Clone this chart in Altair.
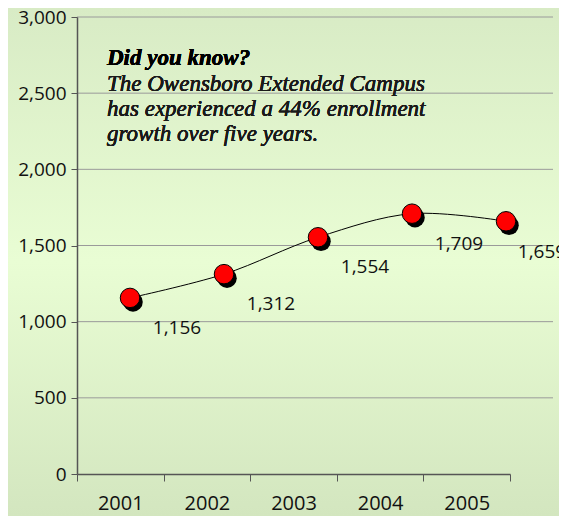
import altair as alt
import pandas as pd

years = ["2001", "2002", "2003", "2004", "2005"]
enrollment = [1156, 1312, 1554, 1709, 1659]
y_ticks = [0, 500, 1000, 1500, 2000, 2500, 3000]
note_title = "Did you know?"
note_lines = ["The Owensboro Extended Campus",
              "has experienced a 44% enrollment",
              "growth over five years."]

df = pd.DataFrame({"year": years, "value": enrollment})
grid_df = pd.DataFrame({"tick": y_ticks[1:]})

W, H = 476, 457
PL, PT, PR, PB = 69, 9, 6, 42

y_scale = alt.Scale(domain=[0, 3000], nice=False)
y_axis = alt.Axis(values=y_ticks, format=",.0f", title=None, grid=False,
                  domainColor="#555555", domainWidth=1.5,
                  tickColor="#555555", tickSize=6,
                  labelFontSize=19, labelFont="Open Sans",
                  labelColor="#111111", labelPadding=5, zindex=2)
y_enc = alt.Y("value:Q", scale=y_scale, axis=y_axis)

x_axis = alt.Axis(title=None, tickBand="extent", labelAngle=0,
                  domainColor="#555555", domainWidth=1.5,
                  tickColor="#555555", tickSize=7,
                  labelFontSize=20, labelFont="Open Sans",
                  labelColor="#111111", labelPadding=12, grid=False, zindex=2)

bg = alt.Chart(df).mark_rect(
    clip=False,
    fill=alt.Gradient(gradient="linear", x1=0, y1=0, x2=0, y2=1,
                      stops=[alt.GradientStop(color="#d8ebc5", offset=0),
                             alt.GradientStop(color="#e9fdd4", offset=0.5),
                             alt.GradientStop(color="#d3e6bf", offset=1)])
).encode(x=alt.value(-PL), x2=alt.value(W + PR),
         y=alt.value(-PT), y2=alt.value(H + PB))

grid = alt.Chart(grid_df).mark_rule(color="#9a9a9a", strokeWidth=1).encode(
    y=alt.Y("tick:Q", scale=y_scale, axis=y_axis),
    x=alt.value(0), x2=alt.value(W))

axis_layer = alt.Chart(df).mark_tick(opacity=0).encode(
    x=alt.X("year:O", scale=alt.Scale(type="band", domain=years, range=[0, 433],
                                      paddingInner=0, paddingOuter=0),
            axis=x_axis),
    y=y_enc,
)

x_pts = alt.X("year:O", scale=alt.Scale(type="point", domain=years,
                                        range=[53, 429], padding=0),
              axis=None)

line = alt.Chart(df).mark_line(color="black", strokeWidth=1,
                               interpolate="catmull-rom").encode(x=x_pts, y=y_enc)

shadow = alt.Chart(df).mark_point(filled=True, size=380, color="black",
                                  opacity=1).encode(
    x=x_pts, y=y_enc, xOffset=alt.value(3), yOffset=alt.value(4))

dots = alt.Chart(df).mark_point(filled=True, size=380, fill="#ff0000",
                                stroke="black", strokeWidth=1,
                                opacity=1).encode(x=x_pts, y=y_enc)

labels = alt.Chart(df).transform_filter(alt.datum.year != "2005").mark_text(
    dx=47, dy=30, fontSize=19, font="Open Sans", color="#111111").encode(
    x=x_pts, y=y_enc, text=alt.Text("value:Q", format=","))

label_last = alt.Chart(df).transform_filter(alt.datum.year == "2005").mark_text(
    dx=36, dy=31, fontSize=19, font="Open Sans", color="#111111").encode(
    x=x_pts, y=y_enc, text=alt.Text("value:Q", format=","))

title_txt = alt.Chart(df).mark_text(
    text=note_title, align="left", baseline="alphabetic", fontSize=23,
    font="Liberation Serif", fontStyle="italic", fontWeight="bold",
    color="black").encode(x=alt.value(30), y=alt.value(48))

body_txt = alt.Chart(df).mark_text(
    text=note_lines, align="left", baseline="alphabetic", fontSize=23,
    lineHeight=25, font="Liberation Serif", fontStyle="italic",
    color="#1a1a1a").encode(x=alt.value(30), y=alt.value(74))

chart = alt.layer(
    bg, grid, axis_layer, line, shadow, dots, labels, label_last,
    title_txt, body_txt
).resolve_scale(x="independent").resolve_axis(x="independent").properties(
    width=W, height=H,
    padding={"left": PL, "top": PT, "right": PR, "bottom": PB},
    autosize=alt.AutoSizeParams(type="none"),
).configure_view(stroke=None).configure(background="#e6f9d2")

chart.save("out.html", embed_options={"renderer": "svg", "actions": False})
